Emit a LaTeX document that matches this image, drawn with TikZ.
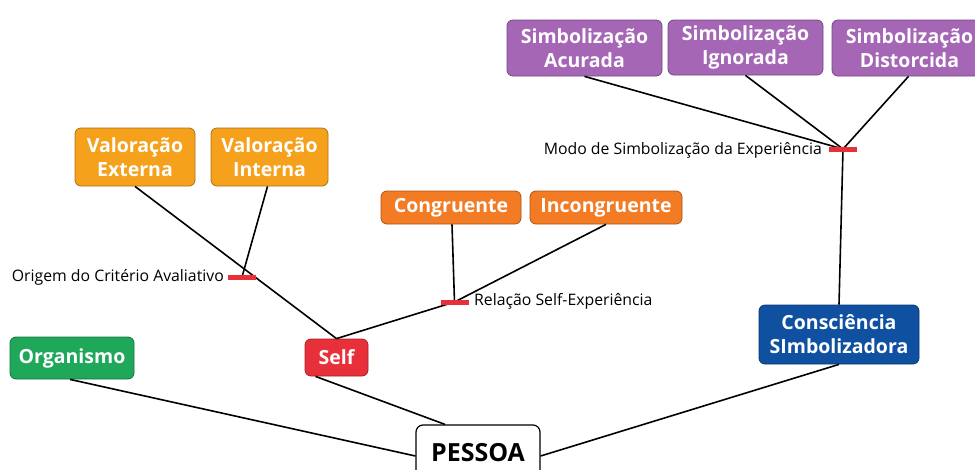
\documentclass[tikz,border=0pt]{standalone}
\usepackage{fontspec}
\setmainfont{Open Sans}
\begin{document}
\begin{tikzpicture}[x=1pt,y=-1pt,
  box/.style={draw=#1!70!black, fill=#1, rounded corners=6pt, line width=0.8pt,
    text=white, font=\bfseries\fontsize{19.5}{24}\selectfont, align=center,
    inner sep=0pt},
  conn/.style={line width=1.6pt, black},
  jbar/.style={fill=jred, draw=none, minimum width=28pt, minimum height=5pt, inner sep=0pt},
  lab/.style={font=\fontsize{15.8}{18}\selectfont, inner sep=0pt}
]
\definecolor{cpurple}{HTML}{A566B6}
\definecolor{corangeA}{HTML}{F5A11C}
\definecolor{corangeB}{HTML}{F27B24}
\definecolor{cred}{HTML}{E8303A}
\definecolor{jred}{HTML}{E8303A}
\definecolor{cgreen}{HTML}{1FA75A}
\definecolor{cblue}{HTML}{0F50A1}
\useasboundingbox (0,0) rectangle (975,469);
\clip (0,0) rectangle (975,469);

% purple
\node[box=cpurple, minimum width=155pt, minimum height=56pt] (acur) at (584.5,48) {Simbolização\\Acurada};
\node[box=cpurple, minimum width=155pt, minimum height=55pt] (igno) at (745.5,47.5) {Simbolização\\Ignorada};
\node[box=cpurple, minimum width=155pt, minimum height=56pt] (dist) at (909.5,48) {Simbolização\\Distorcida};
\node[jbar] (jmodo) at (843,149) {};
\node[lab, anchor=east] (lmodo) at (822,150) {Modo de Simbolização da Experiência};

% orange valoracao
\node[box=corangeA, minimum width=120pt, minimum height=58pt] (vext) at (135,157) {Valoração\\Externa};
\node[box=corangeA, minimum width=117pt, minimum height=58pt] (vint) at (269.5,157) {Valoração\\Interna};
\node[jbar] (jorig) at (242,277) {};
\node[lab, anchor=east] (lorig) at (224,277) {Origem do Critério Avaliativo};

% orange congruente
\node[box=corangeB, minimum width=140pt, minimum height=33pt] (cong) at (451,207.5) {Congruente};
\node[box=corangeB, minimum width=152pt, minimum height=33pt] (inco) at (606,207.5) {Incongruente};
\node[jbar] (jrel) at (454.5,302) {};
\node[lab, anchor=west] (lrel) at (474,301.5) {Relação Self-Experiência};

% lower level
\node[box=cred, minimum width=63pt, minimum height=37pt] (self) at (336.5,357.5) {Self};
\node[box=cgreen, minimum width=124pt, minimum height=42pt] (org) at (72,358) {Organismo};
\node[box=cblue, minimum width=160pt, minimum height=59pt] (cons) at (839,334.5) {Consciência\\SImbolizadora};
\node[draw=black, fill=white, rounded corners=7pt, line width=1.2pt, inner sep=0pt,
  minimum width=124pt, minimum height=56pt, font=\bfseries\fontsize{25}{28}\selectfont]
  (pes) at (478,453) {PESSOA};

% connectors
\draw[conn] (acur.south) -- (jmodo.center);
\draw[conn] (igno.south) -- (jmodo.center);
\draw[conn] ([xshift=-1pt]dist.south) -- (jmodo.center);
\draw[conn] (jmodo.center) -- (cons.north);

\draw[conn] (vext.south) -- (self.north);
\draw[conn] ([xshift=-2pt]vint.south) -- (jorig.center);

\draw[conn] ([xshift=1pt]cong.south) -- (jrel.center);
\draw[conn] (inco.south) -- (jrel.center);
\draw[conn] (jrel.center) -- (self.north);

\draw[conn] ([xshift=-2pt]org.south) -- ([yshift=-3pt]pes.west);
\draw[conn] ([xshift=-21pt]self.south) -- ([xshift=-33pt]pes.north);
\draw[conn] (cons.south) -- ([yshift=-3pt]pes.east);

% redraw junction bars on top
\node[jbar] at (jmodo) {};
\node[jbar] at (jorig) {};
\node[jbar] at (jrel) {};
\end{tikzpicture}
\end{document}
